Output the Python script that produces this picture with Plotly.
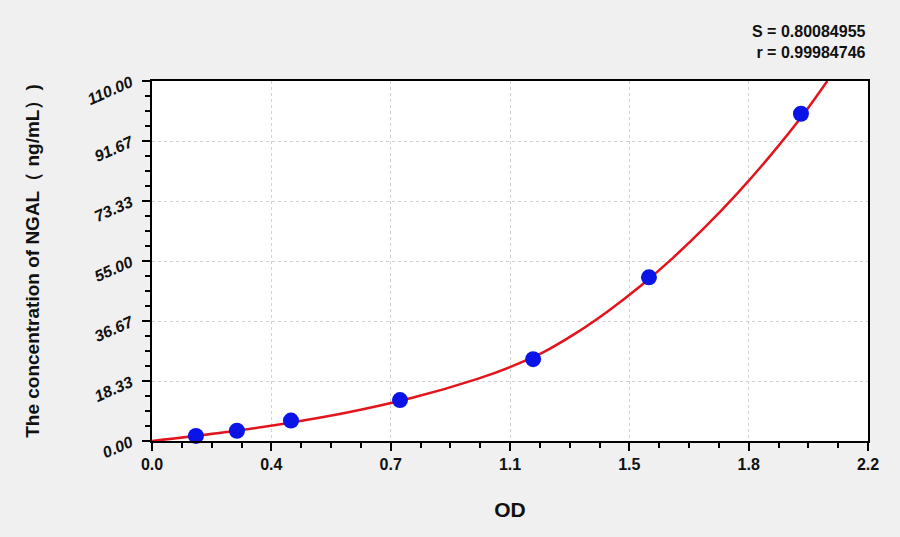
import plotly.graph_objects as go

# standard points (OD vs concentration)
od_points = [0.135, 0.261, 0.427, 0.762, 1.171, 1.527, 1.994]
conc_points = [1.56, 3.125, 6.25, 12.5, 25.0, 50.0, 100.0]

# fitted curve
curve_od = [0.0, 0.2, 0.4, 0.6, 0.8, 1.0, 1.1, 1.2, 1.3, 1.4,
            1.5, 1.6, 1.7, 1.8, 1.9, 2.0, 2.075]
curve_conc = [0.0, 2.35, 5.2, 8.7, 13.2, 19.0, 22.6, 27.0, 32.8, 39.6,
              47.3, 55.9, 65.4, 75.8, 87.2, 99.6, 110.0]

x_tickvals = [0.0, 2.2 / 6, 2 * 2.2 / 6, 3 * 2.2 / 6, 4 * 2.2 / 6, 5 * 2.2 / 6, 2.2]
x_ticktext = ["0.0", "0.4", "0.7", "1.1", "1.5", "1.8", "2.2"]
y_tickvals = [0.0, 110 / 6, 2 * 110 / 6, 3 * 110 / 6, 4 * 110 / 6, 5 * 110 / 6, 110.0]
y_ticktext = ["0.00", "18.33", "36.67", "55.00", "73.33", "91.67", "110.00"]

stats_text = "S = 0.80084955<br>r = 0.99984746"

FONT = "Liberation Sans, Arial, sans-serif"

fig = go.Figure()
fig.add_trace(go.Scatter(
    x=curve_od, y=curve_conc, mode="lines",
    line=dict(color="#e3141b", width=2.5, shape="spline", smoothing=0.8),
    hoverinfo="skip",
))
fig.add_trace(go.Scatter(
    x=od_points, y=conc_points, mode="markers",
    marker=dict(color="#0a14e6", size=16, line=dict(width=0)),
    cliponaxis=False,
))

axis_common = dict(
    showline=True, linecolor="black", linewidth=2, mirror=True,
    ticks="outside", ticklen=8, tickwidth=1.5, tickcolor="black",
    showgrid=True, gridcolor="#d2d2d2", griddash="dot", gridwidth=1,
    zeroline=False,
)

fig.update_xaxes(
    range=[0, 2.2], tickvals=x_tickvals, ticktext=x_ticktext,
    minor=dict(tickmode="linear", tick0=0, dtick=2.2 / 24, ticks="outside",
               ticklen=5, tickcolor="black", showgrid=False),
    tickfont=dict(family=FONT, size=16, color="#111", weight="bold"),
    title=dict(text="OD", font=dict(family=FONT, size=21, color="#111", weight="bold"),
               standoff=30),
    **axis_common,
)
fig.update_yaxes(
    range=[0, 110], tickvals=y_tickvals, ticktext=y_ticktext,
    minor=dict(tickmode="linear", tick0=0, dtick=110 / 24, ticks="outside",
               ticklen=5, tickcolor="black", showgrid=False),
    tickangle=-24, ticklabelstandoff=8,
    tickfont=dict(family=FONT, size=16, color="#111", weight="bold", style="italic"),
    title=dict(text="The concentration of NGAL（ ng/mL）)",
               font=dict(family=FONT, size=19, color="#111", weight="bold"),
               standoff=40),
    **axis_common,
)

fig.add_annotation(
    text=stats_text, xref="paper", yref="paper", x=1.0, y=1.0,
    xanchor="right", yanchor="bottom", yshift=18, align="right",
    showarrow=False, font=dict(family=FONT, size=16, color="#111", weight="bold"),
)

fig.update_layout(
    width=900, height=537,
    margin=dict(l=152, r=32, t=81, b=96),
    paper_bgcolor="#f0f0f0", plot_bgcolor="white",
    showlegend=False,
)

fig.write_html("out.html", config={"displayModeBar": False},
               post_script="document.body.style.margin='0';")
